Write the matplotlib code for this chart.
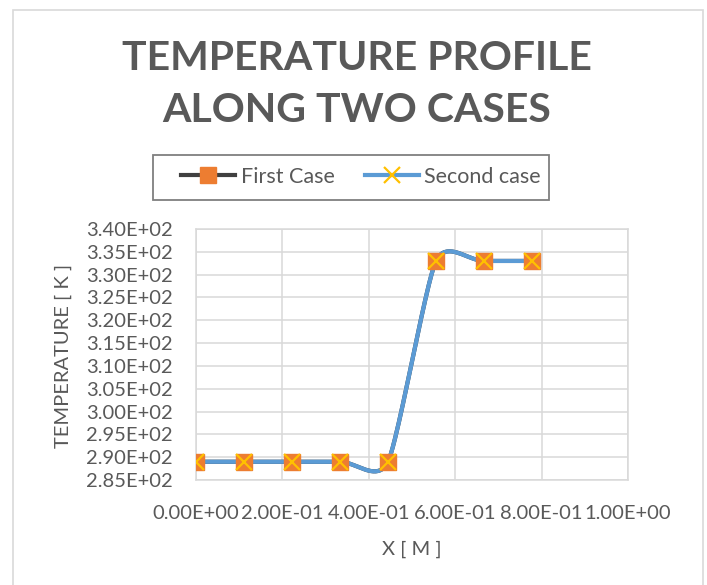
import numpy as np
import matplotlib
matplotlib.use("Agg")
from matplotlib import pyplot as plt
from matplotlib.patches import Rectangle
from matplotlib.ticker import FuncFormatter, MultipleLocator

# data
x_pos = [0.0, 1 / 9, 2 / 9, 3 / 9, 4 / 9, 5 / 9, 6 / 9, 7 / 9]
first_case = [289, 289, 289, 289, 289, 333, 333, 333]
second_case = [289, 289, 289, 289, 289, 333, 333, 333]
series_names = ["First Case", "Second case"]

TXT = "#595959"
GRID = "#d9d9d9"
FS = 14.5

plt.rcParams['font.family'] = ['Lato', 'DejaVu Sans']


def excel_smooth(ax, xs, ys, n=40):
    # bezier smoothing like excel's "smoothed line", done in screen space
    pts = ax.transData.transform(np.column_stack([xs, ys]))
    k = len(pts)
    tang = []
    for i in range(k):
        p0 = pts[max(i - 1, 0)]
        p2 = pts[min(i + 1, k - 1)]
        tv = (p2 - p0) / 6
        dl = np.linalg.norm(pts[i] - p0)
        dr = np.linalg.norm(p2 - pts[i])
        lim = 0.5 * min(d for d in (dl, dr) if d > 0)
        ln = np.linalg.norm(tv)
        if ln > lim:
            tv = tv * lim / ln
        tang.append(tv)
    out = [pts[0]]
    t = np.linspace(0, 1, n)[1:, None]
    for i in range(k - 1):
        p1, p2 = pts[i], pts[i + 1]
        c1 = p1 + tang[i]
        c2 = p2 - tang[i + 1]
        seg = ((1 - t) ** 3) * p1 + 3 * ((1 - t) ** 2) * t * c1 \
            + 3 * (1 - t) * t ** 2 * c2 + t ** 3 * p2
        out.extend(seg)
    out = ax.transData.inverted().transform(np.array(out))
    return out[:, 0], out[:, 1]


fig = plt.figure(figsize=(7.07, 5.85), dpi=100)
ax = fig.add_axes([196 / 707, 1 - 480 / 585, 432 / 707, 251 / 585])

ax.set_xlim(0, 1.0)
ax.set_ylim(285, 340)
ax.xaxis.set_major_locator(MultipleLocator(0.2))
ax.yaxis.set_major_locator(MultipleLocator(5))
ax.xaxis.set_major_formatter(FuncFormatter(lambda v, p: "{:.2E}".format(v)))
ax.yaxis.set_major_formatter(FuncFormatter(lambda v, p: "{:.2E}".format(v)))
ax.grid(True, color=GRID, lw=1.1)
ax.set_axisbelow(True)
for s in ax.spines.values():
    s.set_color(GRID)
    s.set_linewidth(1.1)
ax.tick_params(length=0, colors=TXT, labelsize=FS)
ax.tick_params(axis="y", pad=16.5)
ax.tick_params(axis="x", pad=18)

# lines first, then markers (excel order)
sx, sy = excel_smooth(ax, x_pos, first_case)
ax.plot(sx, sy, color="#404040", lw=3, solid_capstyle="round", zorder=3)
sx, sy = excel_smooth(ax, x_pos, second_case)
ax.plot(sx, sy, color="#5b9bd5", lw=3, solid_capstyle="round", zorder=4)
ax.plot(x_pos, first_case, ls="none", marker="s", ms=12, mfc="#ed7d31",
        mec="#ed7d31", zorder=5)
ax.plot(x_pos, second_case, ls="none", marker="x", ms=11, mew=1.6,
        color="#ffc000", zorder=6)

fig.text(412 / 707, 1 - 549 / 585, "X [ M ]", ha="center", va="center",
         color=TXT, fontsize=FS)
fig.text(63 / 707, 1 - 356 / 585, "TEMPERATURE [ K ]", ha="center",
         va="center", rotation=90, color=TXT, fontsize=FS)

# legend handles
h1, = ax.plot([], [], color="#404040", lw=3, marker="s", ms=12,
              mfc="#ed7d31", mec="#ed7d31")
h2, = ax.plot([], [], color="#5b9bd5", lw=3, marker="x", ms=11, mew=1.6,
              mec="#ffc000")
leg = fig.legend([h1, h2], series_names, loc="center",
                 bbox_to_anchor=(361 / 707, 1 - 177 / 585), ncol=2,
                 fontsize=15.5, frameon=False, handlelength=2.5,
                 columnspacing=1.4, handletextpad=0.25, labelcolor=TXT)
fig.patches.append(Rectangle((153 / 707, 1 - 200 / 585), 396 / 707,
                             45 / 585, transform=fig.transFigure,
                             fill=False, ec="#7f7f7f", lw=1.3))

fig.text(357 / 707, 1 - 58 / 585, "TEMPERATURE PROFILE", ha="center",
         va="center", fontsize=29.5, fontweight="bold", color=TXT)
fig.text(357 / 707, 1 - 110 / 585, "ALONG TWO CASES", ha="center",
         va="center", fontsize=29.5, fontweight="bold", color=TXT)

# chart area border
fig.patches.append(Rectangle((12.5 / 707, -0.05), 690 / 707,
                             1.05 - 10.5 / 585, transform=fig.transFigure,
                             fill=False, ec=GRID, lw=1.2))

fig.savefig("out.png", dpi=100)
